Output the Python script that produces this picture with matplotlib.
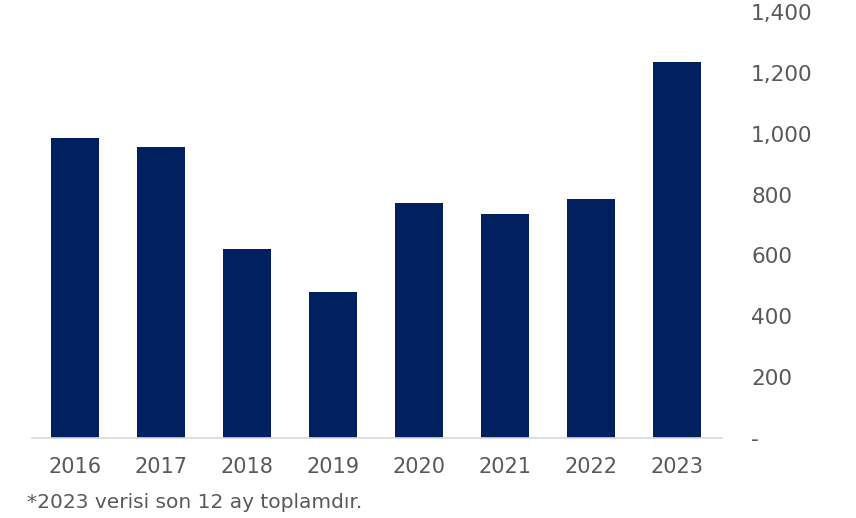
import matplotlib
matplotlib.use("Agg")
import matplotlib.pyplot as plt
from matplotlib.ticker import FuncFormatter

years = ["2016", "2017", "2018", "2019", "2020", "2021", "2022", "2023"]
values = [985, 957, 621, 479, 772, 737, 784, 1236]
yticks = [0, 200, 400, 600, 800, 1000, 1200, 1400]
note = "*2023 verisi son 12 ay toplamdır."

plt.rcParams['font.family'] = ['DejaVu Sans']

fig = plt.figure(figsize=(8.56, 5.18), dpi=100)
ax = fig.add_axes([32/856, 1-437.7/518, (722-32)/856, (437.7-12.3)/518])

x = range(len(years))
ax.bar(x, values, width=0.56, color="#002060")
ax.set_xlim(-0.5, 7.52)
ax.set_ylim(0, 1400)
ax.set_xticks(list(x))
ax.set_xticklabels(years)
ax.set_yticks(yticks)
ax.yaxis.set_major_formatter(FuncFormatter(lambda v, p: "-" if v == 0 else f"{v:,.0f}"))
ax.yaxis.tick_right()
for s in ["top", "left", "right"]:
    ax.spines[s].set_visible(False)
ax.spines["bottom"].set_color("#d9d9d9")
ax.spines["bottom"].set_linewidth(1.2)
ax.tick_params(axis="y", length=0, pad=21, labelsize=15.6, labelcolor="#595959")
ax.tick_params(axis="x", length=0, pad=14, labelsize=15, labelcolor="#595959")
for lbl in ax.get_yticklabels():
    lbl.set_horizontalalignment("left")

fig.text(27/856, 1-502/518, note, fontsize=14.5, color="#595959", va="center", ha="left")

fig.savefig("out.png", dpi=100)
